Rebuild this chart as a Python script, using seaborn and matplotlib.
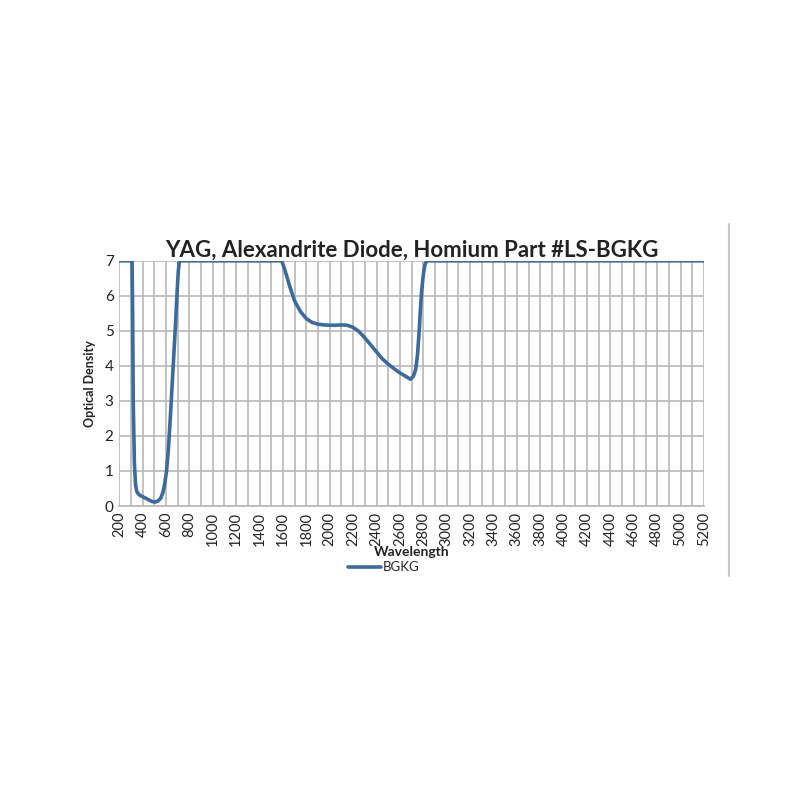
import matplotlib
matplotlib.use("Agg")
import matplotlib.pyplot as plt
import seaborn as sns
import pandas as pd
import numpy as np
from matplotlib.lines import Line2D

wavelength = [200, 250, 300, 310, 315, 320, 330, 340, 350, 365, 380, 410, 450, 480, 505,
              530, 555, 575, 590, 605, 620, 635, 650, 665, 680, 695, 705, 715,
              800, 1000, 1200, 1400, 1590, 1620, 1660, 1700, 1750, 1800, 1850, 1900,
              1950, 2000, 2050, 2100, 2150, 2200, 2250, 2300, 2350, 2400, 2450, 2500,
              2550, 2600, 2650, 2690, 2715, 2735, 2750, 2765, 2775, 2785, 2800, 2815,
              2830, 3000, 3500, 4000, 4500, 5000, 5200]
optical_density = [7, 7, 7, 7, 5.5, 3.0, 1.2, 0.6, 0.42, 0.34, 0.3, 0.25, 0.18, 0.13, 0.11,
                   0.14, 0.22, 0.4, 0.65, 1.0, 1.6, 2.4, 3.3, 4.2, 5.1, 6.1, 6.7, 7,
                   7, 7, 7, 7, 7, 6.7, 6.25, 5.85, 5.55, 5.35, 5.24, 5.19,
                   5.17, 5.16, 5.16, 5.17, 5.16, 5.1, 4.98, 4.8, 4.6, 4.4, 4.2, 4.05,
                   3.92, 3.8, 3.7, 3.62, 3.7, 3.9, 4.3, 5.0, 5.6, 6.1, 6.6, 6.9,
                   7, 7, 7, 7, 7, 7, 7]
x_ticks = list(range(200, 5201, 200))
y_ticks = list(range(0, 8))

df = pd.DataFrame({"Wavelength": wavelength, "Optical Density": optical_density, "Series": "BGKG"})

sns.set_theme(style="white")
plt.rcParams["font.family"] = ["Lato", "DejaVu Sans"]

fig = plt.figure(figsize=(8, 8), dpi=100)
ax = fig.add_axes([0.149, 0.3675, 0.731, 0.3065])

line_color = "#3C6A9C"
sns.lineplot(data=df, x="Wavelength", y="Optical Density", ax=ax, color=line_color,
             linewidth=2.6, legend=False, sort=False)

ax.set_xlim(200, 5200)
ax.set_ylim(0, 7)
ax.set_xticks(x_ticks)
ax.set_xticks(list(range(200, 5201, 100)), minor=True)
ax.set_yticks(y_ticks)
ax.set_xticklabels([str(t) for t in x_ticks], rotation=90, fontsize=10.5, color="#222222")
ax.set_yticklabels([str(t) for t in y_ticks], fontsize=11, color="#222222")
ax.grid(True, which="both", axis="x", color="#B8B8B8", linewidth=1.2)
ax.grid(True, which="major", axis="y", color="#B8B8B8", linewidth=1.2)
ax.tick_params(axis="both", which="both", length=0, pad=4)
for s in ["top", "right", "left"]:
    ax.spines[s].set_visible(False)
ax.spines["bottom"].set_color("#B8B8B8")
ax.spines["bottom"].set_linewidth(1.2)

ax.set_title("YAG, Alexandrite Diode, Homium Part #LS-BGKG", fontsize=16, fontweight="bold",
             color="#222222", pad=3)
ax.set_xlabel("Wavelength", fontsize=10, fontweight="bold", color="#222222", labelpad=0)
ax.set_ylabel("Optical Density", fontsize=9, fontweight="bold", color="#222222", labelpad=6)

handle = Line2D([0], [0], color=line_color, linewidth=2.6)
fig.legend([handle], ["BGKG"], loc="center", bbox_to_anchor=(0.48, 0.291), frameon=False,
           fontsize=9.5, handlelength=2.5, handletextpad=0.1, borderpad=0)

fig.add_artist(Line2D([0.911, 0.911], [0.28, 0.72], color="#C8C8C8", linewidth=1.5,
                      transform=fig.transFigure))

fig.savefig("out.png", dpi=100, facecolor="white")
